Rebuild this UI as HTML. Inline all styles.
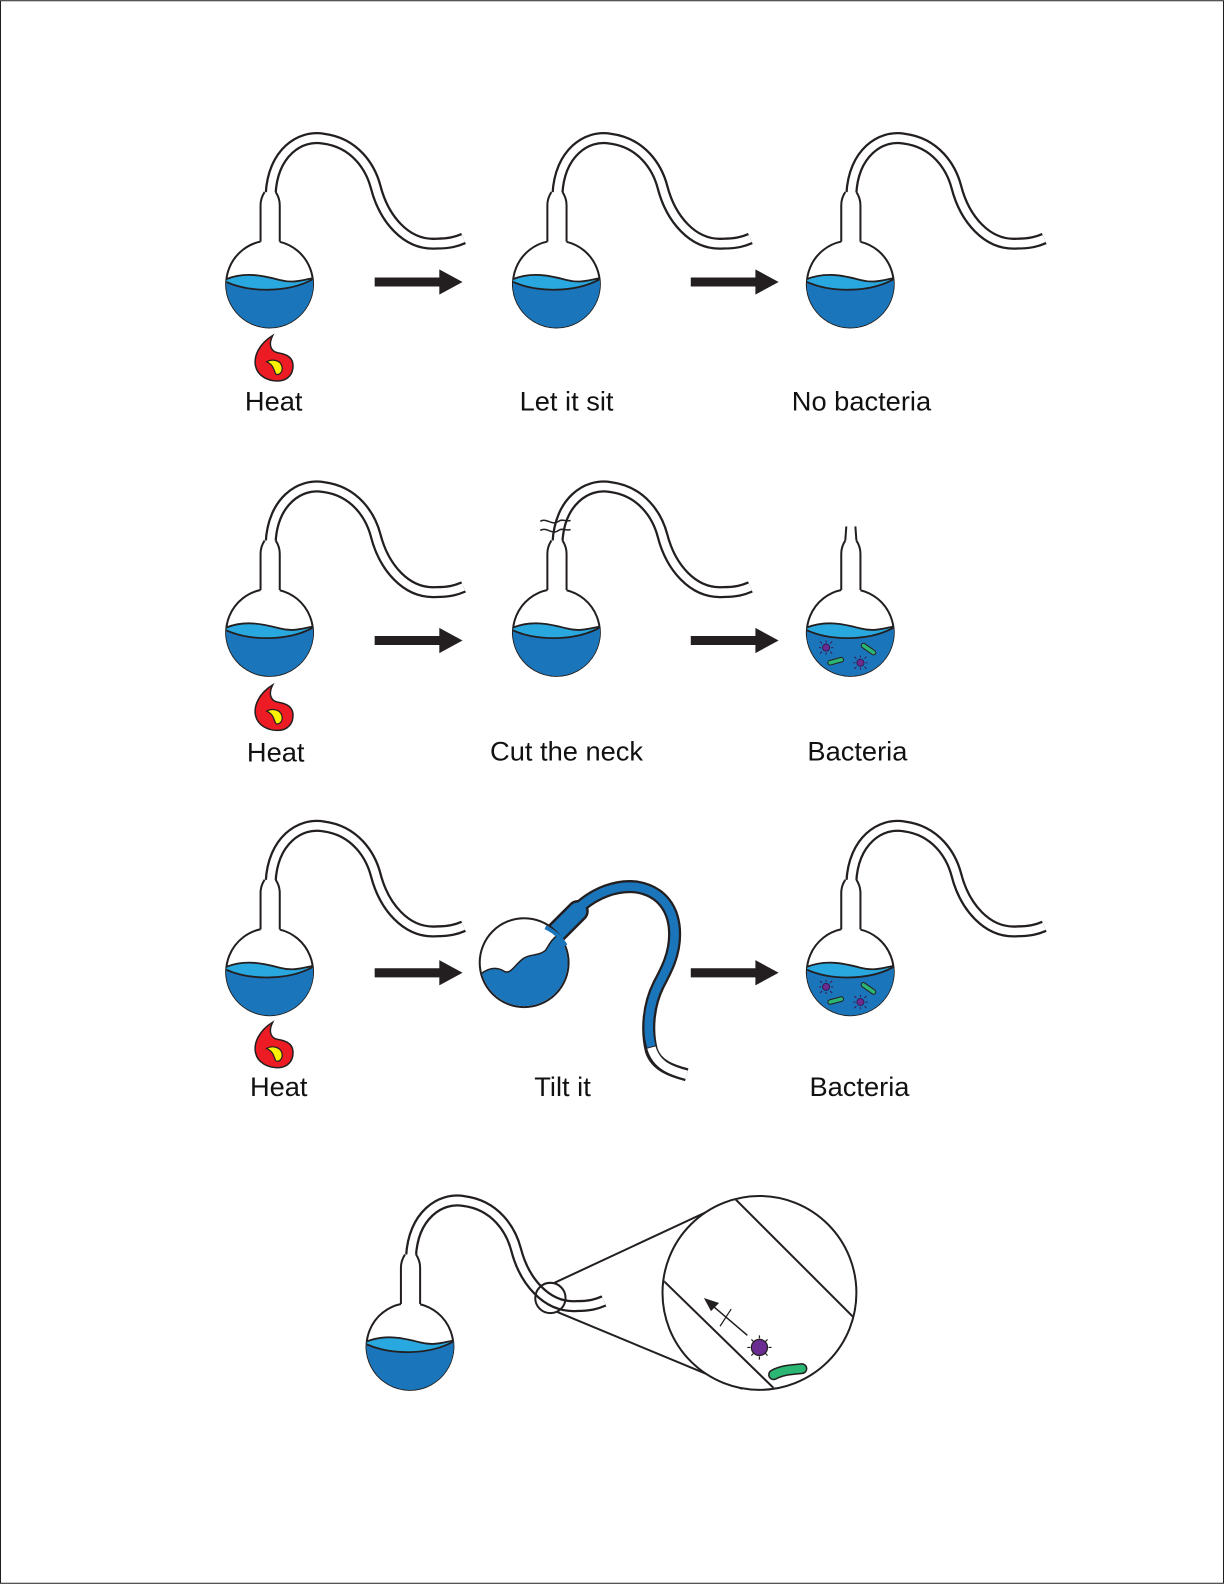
<!DOCTYPE html>
<html><head><meta charset="utf-8"><style>
html,body{margin:0;padding:0;background:#fff}
svg{display:block}
text{font-family:"Liberation Sans",sans-serif;font-size:27px;fill:#111;text-anchor:middle}
</style></head><body>
<svg width="1224" height="1584" viewBox="0 0 1212 1568" xmlns="http://www.w3.org/2000/svg">
<defs>
<clipPath id="cc"><circle cx="0" cy="0" r="43"/></clipPath>
<clipPath id="tc"><circle cx="519" cy="953" r="43"/></clipPath>
<clipPath id="bc"><circle cx="752" cy="1280" r="95"/></clipPath>
<path id="tube" d="M1,-89 C3,-130 30,-148 53,-144 C85,-140 100,-115 105,-96 C113,-65 135,-38 165,-40 C178,-40 185,-42 192,-45" fill="none"/>
<path id="ttube" d="M548,926 L575,897 C590,884 610,876 630,878 C655,882 668,900 668,925 C668,945 660,960 652,975 C642,995 640,1020 645,1040 C650,1055 665,1060 680,1064" fill="none"/>
<g id="liquid">
<g clip-path="url(#cc)">
<path d="M-45,-4 C-25,-13 -5,-8 10,-4 C25,0 35,-5 45,-6 L45,50 L-45,50 Z" fill="#29a8df"/>
<path d="M-45,-3 C-20,9 20,9 45,-6 L45,50 L-45,50 Z" fill="#1b75bb"/>
<path d="M-45,-4 C-25,-13 -5,-8 10,-4 C25,0 35,-5 45,-6" fill="none" stroke="#231f20" stroke-width="1.8"/>
<path d="M-45,-3 C-20,9 20,9 45,-6" fill="none" stroke="#231f20" stroke-width="1.8"/>
</g>
</g>
<g id="body">
<path d="M-9,-42 L-9,-78 Q-9,-85 -5,-91 L6,-91 Q10,-85 10,-78 L10,-42 Z" fill="#fff"/>
<path d="M-9,-42 L-9,-78 Q-9,-85 -5,-91 M10,-42 L10,-78 Q10,-85 6,-91" fill="none" stroke="#231f20" stroke-width="2"/>
<path d="M10,-41.8 A43,43 0 1 1 -9,-42.05" fill="none" stroke="#231f20" stroke-width="2"/>
<use href="#liquid"/>
</g>
<g id="flask">
<use href="#tube" stroke="#231f20" stroke-width="12"/>
<use href="#tube" stroke="#fff" stroke-width="7.5"/>
<use href="#body"/>
</g>
<g id="bact">
<circle cx="-24" cy="15" r="3.5" fill="#6b2c91" stroke="#3a1a50" stroke-width="1"/>
<circle cx="10" cy="30" r="3.5" fill="#6b2c91" stroke="#3a1a50" stroke-width="1"/>
<path d="M-24,10v-2M-24,20v2M-29,15h-2M-19,15h2M-28,11l-2,-2M-20,19l2,2M-28,19l-2,2M-20,11l2,-2" stroke="#3a1a50" stroke-width="1"/>
<path d="M10,25v-2M10,35v2M5,30h-2M15,30h2M6,26l-2,-2M14,34l2,2M6,34l-2,2M14,26l2,-2" stroke="#3a1a50" stroke-width="1"/>
<path d="M-20,30 L-9,27" stroke="#231f20" stroke-width="5.5" stroke-linecap="round"/>
<path d="M-20,30 L-9,27" stroke="#2bb673" stroke-width="3.5" stroke-linecap="round"/>
<path d="M13,13 L23,20" stroke="#231f20" stroke-width="5.5" stroke-linecap="round"/>
<path d="M13,13 L23,20" stroke="#2bb673" stroke-width="3.5" stroke-linecap="round"/>
</g>
<g id="flame">
<path d="M-1,-24 C-14,-16 -20,-4 -18,6 C-16,16 -6,21 4,21 C14,21 20,14 19,4 C18,-4 10,-6 4,-7 C-2,-8 -6,-14 -1,-24 Z" fill="#ed1c24" stroke="#231f20" stroke-width="1.5"/>
<path d="M-7,2 C-2,-1 6,0 8,6 C10,13 4,16 2,14 C0,10 0,5 -7,2 Z" fill="#fff200" stroke="#231f20" stroke-width="1.2"/>
</g>
<path id="arrow" d="M0,-4.5 L64,-4.5 L64,-12.5 L87,0 L64,12.5 L64,4.5 L0,4.5 Z" fill="#231f20"/>
</defs>
<rect x="0.5" y="0.5" width="1211" height="1567" fill="#fff" stroke="#231f20" stroke-width="1"/>

<!-- Row 1 -->
<use href="#flask" x="267" y="281"/>
<use href="#flask" x="551" y="281"/>
<use href="#flask" x="842" y="281"/>
<use href="#arrow" x="371" y="279"/>
<use href="#arrow" x="684" y="279"/>
<use href="#flame" x="271" y="356"/>
<text x="271" y="406">Heat</text>
<text x="561" y="406">Let it sit</text>
<text x="853" y="406">No bacteria</text>

<!-- Row 2 -->
<use href="#flask" x="267" y="626"/>
<g transform="translate(551,626)">
<use href="#tube" stroke="#231f20" stroke-width="12"/>
<use href="#tube" stroke="#fff" stroke-width="7.5"/>
<path d="M-16,-110 C-10,-114 -4,-105 2,-110 C6,-113 10,-109 14,-111 M-16,-101 C-10,-105 -4,-96 2,-101 C6,-104 10,-100 14,-102" fill="none" stroke="#231f20" stroke-width="1.5"/>
<use href="#body"/>
</g>
<g transform="translate(842,626)">
<path d="M-5,-91 L-4,-105 M6,-91 L5,-105" stroke="#231f20" stroke-width="2" fill="none"/>
<use href="#body"/>
<use href="#bact"/>
</g>
<use href="#arrow" x="371" y="634"/>
<use href="#arrow" x="684" y="634"/>
<use href="#flame" x="271" y="702"/>
<text x="273" y="754">Heat</text>
<text x="561" y="753">Cut the neck</text>
<text x="849" y="753">Bacteria</text>

<!-- Row 3 -->
<use href="#flask" x="267" y="962"/>
<g transform="translate(842,962)"><use href="#flask"/><use href="#bact"/></g>
<use href="#arrow" x="371" y="963"/>
<use href="#arrow" x="684" y="963"/>
<use href="#flame" x="271" y="1036"/>
<text x="276" y="1085">Heat</text>
<text x="557" y="1085">Tilt it</text>
<text x="851" y="1085">Bacteria</text>

<!-- Tilted flask -->
<g>
<path d="M548,926 L572,902" stroke="#231f20" stroke-width="22" stroke-linecap="round"/>
<use href="#ttube" stroke="#231f20" stroke-width="13"/>
<path d="M548,926 L572,902" stroke="#1b75bb" stroke-width="17" stroke-linecap="round"/>
<path d="M548,926 L575,897 C590,884 610,876 630,878 C655,882 668,900 668,925 C668,945 660,960 652,975 C642,995 640,1020 645,1036" fill="none" stroke="#1b75bb" stroke-width="8.5"/>
<path d="M645,1037 C650,1055 665,1060 680,1064" fill="none" stroke="#fff" stroke-width="8.5"/>
<circle cx="519" cy="953" r="44" fill="#fff" stroke="#231f20" stroke-width="2"/>
<g clip-path="url(#tc)">
<path d="M474,966 C485,956 494,958 500,962 C506,964 510,955 518,949 C525,944 532,947 540,941 C544,935 546,930 552,926 L600,920 L600,1010 L470,1010 Z" fill="#1b75bb"/>
<path d="M474,966 C485,956 494,958 500,962 C506,964 510,955 518,949 C525,944 532,947 540,941 C544,935 546,930 552,926" fill="none" stroke="#231f20" stroke-width="1.5"/>
</g>
<path d="M540,918 A44,44 0 0 1 560,936" fill="none" stroke="#1b75bb" stroke-width="4"/>
</g>

<!-- Bottom -->
<use href="#flask" x="406" y="1333"/>
<circle cx="545" cy="1285" r="15" fill="none" stroke="#231f20" stroke-width="2"/>
<path d="M549,1270 L725,1188 M552,1299 L735,1375" stroke="#231f20" stroke-width="2"/>
<circle cx="752" cy="1280" r="96" fill="#fff" stroke="#231f20" stroke-width="2"/>
<g clip-path="url(#bc)">
<path d="M725,1184 L850,1309 M655,1266 L772,1380" stroke="#231f20" stroke-width="2"/>
</g>
<path d="M740,1322 L706,1293" stroke="#231f20" stroke-width="1.5"/>
<path d="M697,1285 L712,1290 L704,1298 Z" fill="#231f20"/>
<path d="M713,1313 L724,1296" stroke="#231f20" stroke-width="1.2"/>
<circle cx="752" cy="1334" r="8" fill="#6b2c91" stroke="#231f20" stroke-width="1.2"/>
<path d="M752,1325v-3M752,1343v3M743,1334h-3M761,1334h3M746,1328l-2,-2M758,1340l2,2M746,1340l-2,2M758,1328l2,-2" stroke="#231f20" stroke-width="1.2"/>
<path d="M766,1361 C775,1356 785,1356 794,1355" stroke="#231f20" stroke-width="11" stroke-linecap="round" fill="none"/>
<path d="M766,1361 C775,1356 785,1356 794,1355" stroke="#2bb673" stroke-width="8" stroke-linecap="round" fill="none"/>
</svg>
</body></html>
